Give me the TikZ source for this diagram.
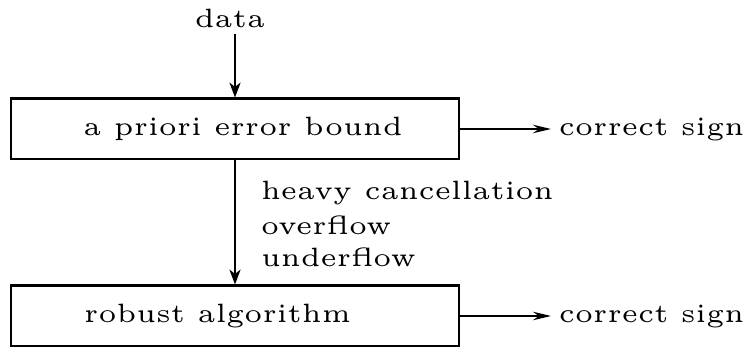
\documentclass[tikz,border=0pt]{standalone}
\usetikzlibrary{arrows.meta}
\begin{document}
\begin{tikzpicture}[x=0.1887pt,y=-0.1887pt,
  every node/.style={font=\fontsize{5}{6}\selectfont},
  stage/.style={draw,line width=0.38pt,minimum width=84.54pt,minimum height=11.51pt,inner sep=0pt},
  txt/.style={inner sep=0pt},
  flow/.style={line width=0.38pt,-{Stealth[length=2.8pt,width=2.1pt,inset=0.8pt]}},
  resultarrow/.style={line width=0.38pt,-{Stealth[length=3.4pt,width=1.6pt,inset=1.1pt]}}]
  \useasboundingbox (0,0) rectangle (745,349);
  % input
  \node[txt,anchor=base,inner ysep=0.9pt] (data) at (230,28) {data};
  % processing stages
  \node[stage] (box1) at (235,129) {};
  \node[txt,anchor=base] (t1) at (243,135.5) {a priori error bound};
  \node[stage] (box2) at (235,316) {};
  \node[txt,anchor=base] (t2) at (217.5,322.5) {robust algorithm};
  % results
  \node[txt,anchor=base west,inner xsep=1.3pt] (cs1) at (551,135.5) {correct sign};
  \node[txt,anchor=base west,inner xsep=1.3pt] (cs2) at (551,322.5) {correct sign};
  % reasons for falling back
  \node[txt,anchor=base west] (r1) at (260,200) {heavy cancellation};
  \node[txt,anchor=base west] (r2) at (260,234.5) {overflow};
  \node[txt,anchor=base west] (r3) at (260,267) {underflow};
  % connectors
  \draw[flow] (box1.north |- data.south) -- (box1.north);
  \draw[flow] (box1.south) -- (box2.north);
  \draw[resultarrow] (box1.east) -- (box1.east -| cs1.west);
  \draw[resultarrow] (box2.east) -- (box2.east -| cs2.west);
\end{tikzpicture}
\end{document}
